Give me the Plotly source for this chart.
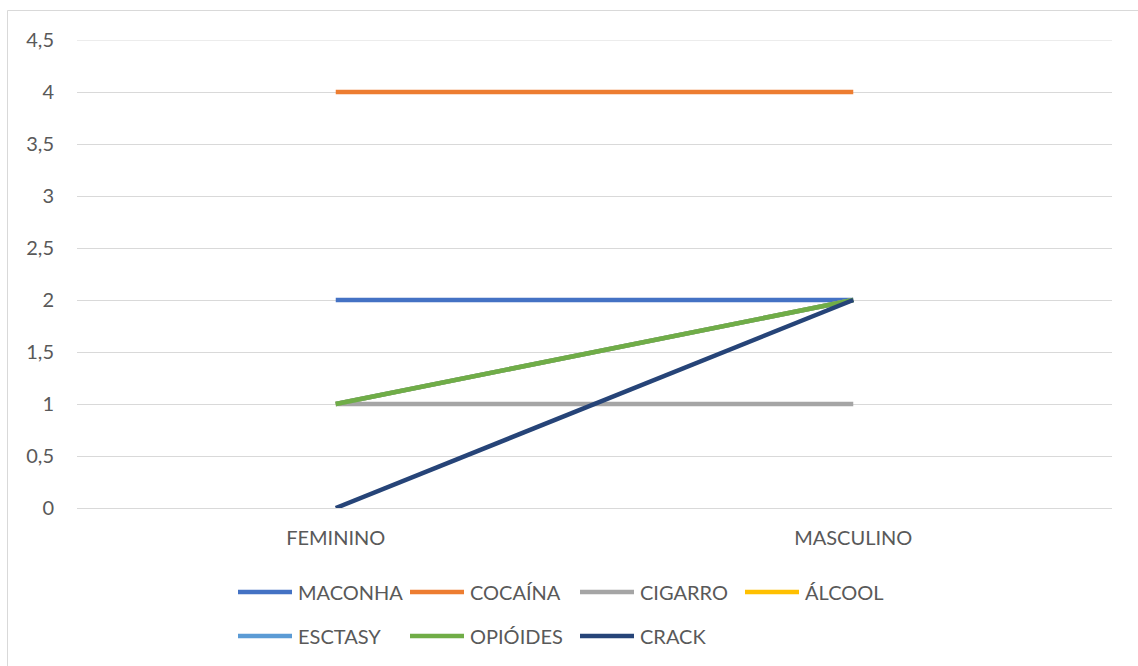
import plotly.graph_objects as go

# Categories and series values
categorias = ["FEMININO", "MASCULINO"]
series_nomes = ["MACONHA", "COCAÍNA", "CIGARRO", "ÁLCOOL", "ESCTASY", "OPIÓIDES", "CRACK"]
maconha = [2, 2]
cocaina = [4, 4]
cigarro = [1, 1]
alcool = [1, 2]
esctasy = [1, 2]
opioides = [1, 2]
crack = [0, 2]
y_ticks = [0, 0.5, 1, 1.5, 2, 2.5, 3, 3.5, 4, 4.5]
y_tick_labels = ["0", "0,5", "1", "1,5", "2", "2,5", "3", "3,5", "4", "4,5"]

valores = [maconha, cocaina, cigarro, alcool, esctasy, opioides, crack]
cores = ["#4472C4", "#ED7D31", "#A5A5A5", "#FFC000", "#5B9BD5", "#70AD47", "#264478"]

W, H = 1138, 666
ML, MR, MT, MB = 77, 26, 40, 158
PW, PH = W - ML - MR, H - MT - MB

FONT = "Lato, 'Open Sans', sans-serif"
TXT = "#595959"
GRID = "#D9D9D9"

fig = go.Figure()
for nome, vals, cor in zip(series_nomes, valores, cores):
    fig.add_trace(go.Scatter(
        x=categorias, y=vals, name=nome, mode="lines",
        line=dict(color=cor, width=4.5), showlegend=False,
    ))

def px_x(px):
    return (px - ML) / PW

def px_y(py):
    return (H - MB - py) / PH

# Legend built from shapes and annotations, laid out in columns
col_x = [238, 410, 580, 745]
row_y = [592, 636]
shapes = []
annotations = []
for i, (nome, cor) in enumerate(zip(series_nomes, cores)):
    r, c = divmod(i, 4)
    x0 = col_x[c]
    y = row_y[r]
    shapes.append(dict(type="line", xref="paper", yref="paper",
                       x0=px_x(x0), x1=px_x(x0 + 54), y0=px_y(y), y1=px_y(y),
                       line=dict(color=cor, width=4.5)))
    annotations.append(dict(xref="paper", yref="paper", x=px_x(x0 + 58), y=px_y(y),
                            text=nome, showarrow=False, xanchor="left", yanchor="middle",
                            font=dict(family=FONT, size=20, color=TXT)))

# Top gridline at the axis maximum (Plotly skips the one on the plot edge)
shapes.append(dict(type="line", xref="paper", yref="y", x0=0, x1=1,
                   y0=y_ticks[-1], y1=y_ticks[-1],
                   line=dict(color=GRID, width=1), layer="below"))

# Chart frame
shapes.append(dict(type="rect", xref="paper", yref="paper",
                   x0=px_x(7.5), x1=px_x(1150), y0=px_y(10.5), y1=px_y(700),
                   line=dict(color=GRID, width=1), fillcolor="rgba(0,0,0,0)", layer="below"))

fig.update_layout(
    width=W, height=H,
    margin=dict(l=ML, r=MR, t=MT, b=MB),
    paper_bgcolor="white", plot_bgcolor="white",
    shapes=shapes, annotations=annotations,
    font=dict(family=FONT, size=20, color=TXT),
    showlegend=False,
    xaxis=dict(type="category", range=[-0.5, 1.5], showgrid=False, zeroline=False,
               showline=False, ticks="", ticklabelstandoff=16,
               tickfont=dict(family=FONT, size=20, color=TXT)),
    yaxis=dict(range=[0, 4.5], tickvals=y_ticks, ticktext=y_tick_labels,
               showgrid=True, gridcolor=GRID, gridwidth=1,
               zeroline=True, zerolinecolor=GRID, zerolinewidth=1,
               showline=False, ticks="", ticklabelstandoff=22,
               tickfont=dict(family=FONT, size=20, color=TXT)),
)

fig.write_html("out.html")
